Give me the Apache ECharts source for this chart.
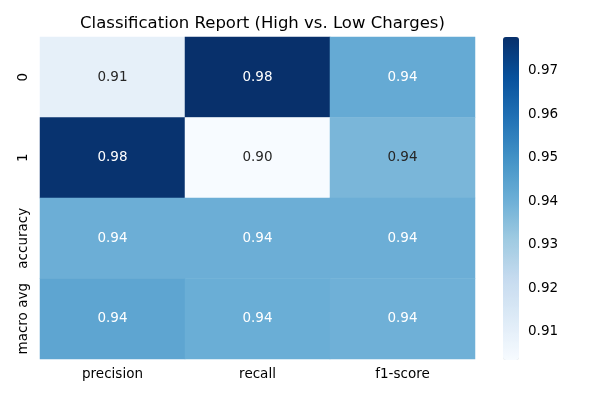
<!DOCTYPE html>
<html>
<head>
<meta charset="utf-8">
<script src="https://cdn.jsdelivr.net/npm/echarts@6/dist/echarts.min.js"></script>
<style>html,body{margin:0;padding:0;background:#fff}#c{width:600px;height:400px}</style>
</head>
<body>
<div id="c"></div>
<script>
var metrics = ['precision', 'recall', 'f1-score'];
var rowsLbl = ['0', '1', 'accuracy', 'macro avg'];
var row0 = [0.910, 0.978, 0.942];
var row1 = [0.977, 0.9035, 0.938];
var rowAcc = [0.9405, 0.9405, 0.9405];
var rowMacro = [0.9435, 0.9408, 0.9400];
var cbMin = 0.9035, cbMax = 0.9778;
var cbTicks = [0.91, 0.92, 0.93, 0.94, 0.95, 0.96, 0.97];
var blues = ['#f7fbff', '#deebf7', '#c6dbef', '#9ecae1', '#6baed6', '#4292c6', '#2171b5', '#08519c', '#08306b'];

var allRows = [row0, row1, rowAcc, rowMacro];
var data = [];
allRows.forEach(function (r, yi) {
  r.forEach(function (v, xi) {
    data.push({ value: [xi, yi, v], label: { color: v < 0.9395 ? '#262626' : '#ffffff' } });
  });
});

var font = 'DejaVu Sans';
var chart = echarts.init(document.getElementById('c'));
chart.setOption({
  animation: false,
  textStyle: { fontFamily: font },
  title: {
    text: 'Classification Report (High vs. Low Charges)',
    left: 257.5, textAlign: 'center', top: 10,
    textStyle: { fontFamily: font, fontSize: 16.5, fontWeight: 'normal', color: '#000' }
  },
  grid: [
    { left: 40, top: 37, width: 435, height: 322 },
    { left: 503, top: 37, width: 16, height: 323 }
  ],
  xAxis: [
    { type: 'category', data: metrics, gridIndex: 0,
      axisLine: { show: false }, splitLine: { show: false },
      axisTick: { alignWithLabel: true, length: 5, lineStyle: { color: '#000' } },
      axisLabel: { interval: 0, fontFamily: font, fontSize: 13.5, color: '#000', margin: 8 } },
    { type: 'value', gridIndex: 1, show: false, min: 0, max: 1 }
  ],
  yAxis: [
    { type: 'category', data: rowsLbl, inverse: true, gridIndex: 0,
      axisLine: { show: false }, splitLine: { show: false },
      axisTick: { alignWithLabel: true, interval: 0, length: 5, lineStyle: { color: '#000' } },
      axisLabel: { interval: 0, fontFamily: font, fontSize: 13.5, color: '#000', rotate: 90, margin: 10 } },
    { type: 'value', gridIndex: 1, position: 'right', min: cbMin, max: cbMax,
      axisLine: { show: false }, splitLine: { show: false },
      axisTick: { show: true, length: 5, customValues: cbTicks, lineStyle: { color: '#000' } },
      axisLabel: { fontFamily: font, fontSize: 13.5, color: '#000', margin: 9, customValues: cbTicks,
        formatter: function (v) { return v.toFixed(2); } } }
  ],
  visualMap: {
    type: 'continuous', min: cbMin, max: cbMax, seriesIndex: 0,
    calculable: false, orient: 'vertical', left: 503, top: 37,
    itemWidth: 16, itemHeight: 323, padding: 0, text: null,
    inRange: { color: blues }, hoverLink: false
  },
  series: [
    { type: 'heatmap', xAxisIndex: 0, yAxisIndex: 0, data: data,
      label: { show: true, fontFamily: font, fontSize: 13.5,
        formatter: function (p) { return p.value[2].toFixed(2); } },
      itemStyle: { borderWidth: 0 } },
    { type: 'line', xAxisIndex: 1, yAxisIndex: 1, data: [], silent: true }
  ]
});
</script>
</body>
</html>
